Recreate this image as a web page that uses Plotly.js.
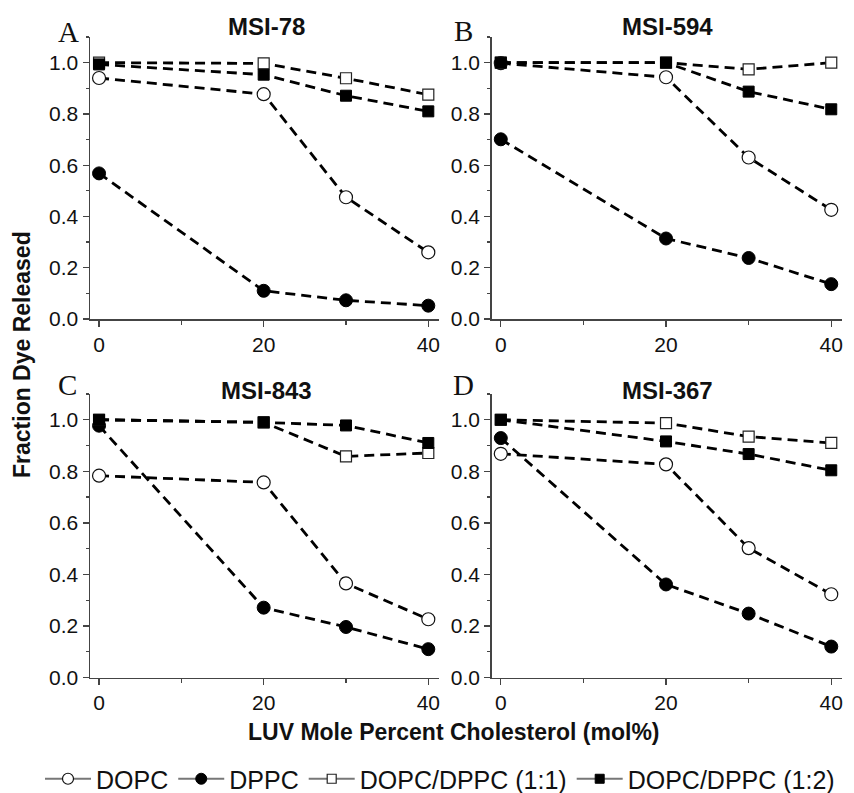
<!DOCTYPE html>
<html>
<head>
<meta charset="utf-8">
<script src="https://cdn.plot.ly/plotly-3.0.1.min.js"></script>
<style>html,body{margin:0;padding:0;background:#fff;}#chart{width:854px;height:793px;}</style>
</head>
<body>
<div id="chart"></div>
<script>
// ---- data ----
const cholesterol = [0, 20, 30, 40];
const seriesNames = ["DOPC", "DPPC", "DOPC/DPPC (1:1)", "DOPC/DPPC (1:2)"];
const panelLetters = ["A", "B", "C", "D"];
const panelTitles = ["MSI-78", "MSI-594", "MSI-843", "MSI-367"];

const msi78_DOPC  = [0.940, 0.877, 0.475, 0.260];
const msi78_DPPC  = [0.568, 0.110, 0.073, 0.052];
const msi78_11    = [1.000, 0.997, 0.939, 0.875];
const msi78_12    = [0.993, 0.953, 0.871, 0.810];

const msi594_DOPC = [0.998, 0.943, 0.630, 0.426];
const msi594_DPPC = [0.701, 0.314, 0.238, 0.136];
const msi594_11   = [1.000, 1.000, 0.974, 1.000];
const msi594_12   = [1.000, 1.000, 0.887, 0.818];

const msi843_DOPC = [0.783, 0.757, 0.365, 0.226];
const msi843_DPPC = [0.977, 0.271, 0.196, 0.110];
const msi843_11   = [1.000, 0.990, 0.858, 0.871];
const msi843_12   = [1.000, 0.990, 0.978, 0.910];

const msi367_DOPC = [0.868, 0.827, 0.502, 0.323];
const msi367_DPPC = [0.929, 0.361, 0.248, 0.120];
const msi367_11   = [1.000, 0.987, 0.935, 0.910];
const msi367_12   = [1.000, 0.916, 0.867, 0.804];

const xTickVals = [0, 20, 40];
const yTickVals = [0, 0.2, 0.4, 0.6, 0.8, 1.0];
const yTickText = ["0.0", "0.2", "0.4", "0.6", "0.8", "1.0"];
const xAxisTitle = "LUV Mole Percent Cholesterol (mol%)";
const yAxisTitle = "Fraction Dye Released";

// ---- styling ----
const W = 854, H = 793;
const FONT = "Liberation Sans, Arial, Helvetica, sans-serif";
const panels = [
  [msi78_DOPC, msi78_DPPC, msi78_11, msi78_12],
  [msi594_DOPC, msi594_DPPC, msi594_11, msi594_12],
  [msi843_DOPC, msi843_DPPC, msi843_11, msi843_12],
  [msi367_DOPC, msi367_DPPC, msi367_11, msi367_12]
];
const markerStyles = [
  {symbol: "circle", size: 13, color: "#ffffff", line: {color: "#111", width: 1.2}},
  {symbol: "circle", size: 13, color: "#000000", line: {color: "#000", width: 1}},
  {symbol: "square", size: 11, color: "#ffffff", line: {color: "#222", width: 1.2}},
  {symbol: "square", size: 11, color: "#000000", line: {color: "#000", width: 1}}
];

const traces = [];
panels.forEach((series, p) => {
  const ax = p + 1;
  series.forEach((vals, s) => {
    traces.push({
      x: cholesterol, y: vals, type: "scatter", mode: "lines+markers",
      xaxis: "x" + (ax === 1 ? "" : ax), yaxis: "y" + (ax === 1 ? "" : ax),
      line: {color: "#000", width: 2.8, dash: "10px,6px"},
      marker: markerStyles[s], showlegend: false, cliponaxis: false
    });
  });
});
// legend entries
seriesNames.forEach((name, s) => {
  traces.push({
    x: [null], y: [null], type: "scatter", mode: "lines+markers", name: name,
    line: {color: "#777", width: 2}, marker: Object.assign({}, markerStyles[s], {size: s < 2 ? 11 : 9}),
    showlegend: true
  });
});

const xDomL = [90 / W, 439 / W], xDomR = [491.7 / W, 842 / W];
const yDomT = [1 - 319 / H, 1 - 37 / H], yDomB = [1 - 677.5 / H, 1 - 394 / H];

function xa(dom, anchor) {
  return {
    domain: dom, anchor: anchor, range: [-1.1, 41.3], tickvals: xTickVals,
    ticks: "outside", ticklen: 6, tickwidth: 1.3, tickcolor: "#444",
    showline: true, linecolor: "#444", linewidth: 1.5, showgrid: false, zeroline: false,
    tickfont: {family: FONT, size: 21, color: "#111"},
    minor: {tickvals: [10, 30], ticks: "outside", ticklen: 4, tickcolor: "#444", showgrid: false}
  };
}
function ya(dom, anchor) {
  return {
    domain: dom, anchor: anchor, range: [0, 1.1], tickvals: yTickVals, ticktext: yTickText,
    ticks: "outside", ticklen: 6, tickwidth: 1.3, tickcolor: "#444",
    showline: true, linecolor: "#444", linewidth: 1.5, showgrid: false, zeroline: false,
    tickfont: {family: FONT, size: 21, color: "#111"},
    minor: {dtick: 0.1, ticks: "outside", ticklen: 3, tickcolor: "#444", showgrid: false}
  };
}

const letterPos = [[68, 32], [463, 31], [67, 385], [463, 385]];
const titlePos = [[266, 27], [667, 27], [266, 390], [667, 390]];
const annotations = [];
panelLetters.forEach((t, i) => {
  annotations.push({text: t, xref: "paper", yref: "paper", x: letterPos[i][0] / W, y: 1 - letterPos[i][1] / H,
    xanchor: "center", yanchor: "middle", showarrow: false,
    font: {family: "Liberation Serif, Times New Roman, serif", size: 29, color: "#111"}});
});
panelTitles.forEach((t, i) => {
  annotations.push({text: "<b>" + t + "</b>", xref: "paper", yref: "paper", x: titlePos[i][0] / W, y: 1 - titlePos[i][1] / H,
    xanchor: "center", yanchor: "middle", showarrow: false,
    font: {family: FONT, size: 24, color: "#111"}});
});
annotations.push({text: "<b>" + xAxisTitle + "</b>", xref: "paper", yref: "paper", x: 454 / W, y: 1 - 732 / H,
  xanchor: "center", yanchor: "middle", showarrow: false, font: {family: FONT, size: 23, color: "#111"}});
annotations.push({text: "<b>" + yAxisTitle + "</b>", xref: "paper", yref: "paper", x: 22 / W, y: 1 - 355 / H,
  xanchor: "center", yanchor: "middle", textangle: -90, showarrow: false, font: {family: FONT, size: 23, color: "#111"}});

const layout = {
  width: W, height: H, margin: {l: 0, r: 0, t: 0, b: 0, autoexpand: false},
  paper_bgcolor: "#fff", plot_bgcolor: "rgba(0,0,0,0)",
  font: {family: FONT, color: "#111"},
  xaxis: xa(xDomL, "y"), yaxis: ya(yDomT, "x"),
  xaxis2: xa(xDomR, "y2"), yaxis2: ya(yDomT, "x2"),
  xaxis3: xa(xDomL, "y3"), yaxis3: ya(yDomB, "x3"),
  xaxis4: xa(xDomR, "y4"), yaxis4: ya(yDomB, "x4"),
  showlegend: true,
  legend: {orientation: "h", x: 40 / W, y: 1 - 779 / H, xanchor: "left", yanchor: "middle",
    font: {family: FONT, size: 25, color: "#111"}, itemwidth: 46, bgcolor: "rgba(0,0,0,0)", itemclick: false},
  annotations: annotations
};

Plotly.newPlot("chart", traces, layout, {displayModeBar: false, staticPlot: true});
</script>
</body>
</html>
